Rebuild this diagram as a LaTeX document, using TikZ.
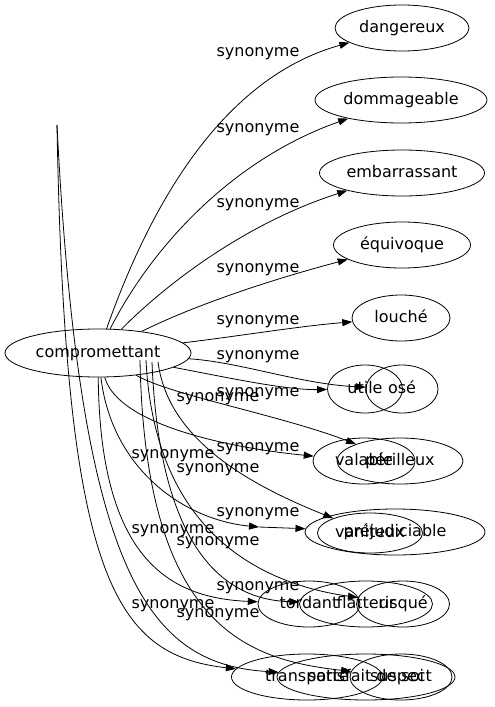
\documentclass[tikz,border=0pt]{standalone}
\usepackage{fontspec}
\setmainfont{DejaVu Sans}
\usepackage{tikz}
\usetikzlibrary{shapes.geometric,arrows.meta,calc}

\begin{document}
\begin{tikzpicture}[->,>={Triangle[length=10pt,width=7pt]},x=1pt,y=-1pt,
		line width=0.8pt,
		main node/.style={ellipse,draw,inner sep=0pt,minimum height=46pt,
			text height=12pt,text depth=3.5pt,font=\fontsize{16}{19}\selectfont},
		syn node/.style={inner sep=0pt,font=\fontsize{16}{19}\selectfont}]

		\useasboundingbox (0,0) rectangle (495,707);

		\node[main node,minimum width=186pt,minimum height=48pt] (comp) at (98,353) {compromettant};

		\node[main node,minimum width=134pt] (dang) at (402,28) {dangereux};
		\node[main node,minimum width=172pt] (domm) at (401,100) {dommageable};
		\node[main node,minimum width=165pt] (emb) at (402,173) {embarrassant};
		\node[main node,minimum width=137pt] (equi) at (402,245) {équivoque};
		\node[main node,minimum width=98pt] (lou) at (401,318) {louché};
		\node[main node,minimum width=75pt,minimum height=48pt] (uti) at (365,389) {utile};
		\node[main node,minimum width=72pt,minimum height=48pt] (ose) at (402,389) {osé};
		\node[main node,minimum width=102pt] (val) at (364,461) {valable};
		\node[main node,minimum width=126pt] (per) at (400,461) {périlleux};
		\node[main node,minimum width=180pt] (prej) at (395,532) {préjudiciable};
		\node[main node,minimum width=105pt,minimum height=40pt] (van) at (370,533) {vaniteux};
		\node[main node,minimum width=102pt] (tord) at (309,604) {tordant};
		\node[main node,minimum width=133pt] (flat) at (366,604) {flatteur};
		\node[main node,minimum width=93pt] (risq) at (403,604) {risqué};
		\node[main node,minimum width=151pt] (transp) at (307,677) {transporté};
		\node[main node,minimum width=178pt] (satis) at (366,677) {satisfait de soi};
		\node[main node,minimum width=102pt] (susp) at (401,677) {suspect};

		\coordinate (kink) at (57,125);
		\coordinate (prejmid) at (259,527);

		% edges
		\draw (comp) .. controls (145,220) and (215,80) .. (dang);
		\draw (comp) .. controls (150,250) and (230,160) .. (domm);
		\draw (comp) .. controls (160,290) and (240,225) .. (emb);
		\draw (comp) .. controls (195,305) and (270,280) .. (equi);
		\draw (comp) .. controls (240,336) and (300,326) .. (lou);
		\draw (comp) .. controls (240,362) and (300,384) .. (ose);
		\draw (comp) .. controls (230,378) and (285,390) .. (uti);
		\draw (comp) .. controls (170,395) and (280,415) .. (per);
		\draw (comp) .. controls (118,425) and (230,448) .. (val);
		\draw ($(comp)+(60,9)$) .. controls (168,440) and (250,485) .. (van);
		\draw (comp) .. controls (112,470) and (185,520) .. (prejmid);
		\draw (prejmid) -- (prej);
		\draw (comp) .. controls (100,560) and (170,598) .. (tord);
		\draw ($(comp)+(54,9)$) .. controls (160,565) and (235,600) .. (flat);
		\draw ($(comp)+(48,7)$) .. controls (155,540) and (270,585) .. (risq);
		\draw ($(comp)+(42,7)$) .. controls (145,630) and (250,660) .. (susp);
		\draw (kink) .. controls (65,580) and (115,655) .. (transp);
		\draw (kink) .. controls (80,580) and (150,665) .. (satis);

		% labels
		\node[syn node] (l1) at (258,54) {synonyme};
		\node[syn node] (l2) at (258,130) {synonyme};
		\node[syn node] (l3) at (258,205) {synonyme};
		\node[syn node] (l4) at (258,270) {synonyme};
		\node[syn node] (l5) at (258,322) {synonyme};
		\node[syn node] (l6) at (258,357) {synonyme};
		\node[syn node] (l7) at (258,394) {synonyme};
		\node[syn node] (l8) at (258,449) {synonyme};
		\node[syn node] (l9) at (258,514) {synonyme};
		\node[syn node] (l10) at (258,588) {synonyme};
		\node[syn node] (l11) at (218,399) {synonyme};
		\node[syn node] (l12) at (218,470) {synonyme};
		\node[syn node] (l13) at (218,543) {synonyme};
		\node[syn node] (l14) at (218,615) {synonyme};
		\node[syn node] (l15) at (173,456) {synonyme};
		\node[syn node] (l16) at (173,531) {synonyme};
		\node[syn node] (l17) at (173,606) {synonyme};
	\end{tikzpicture}
\end{document}
